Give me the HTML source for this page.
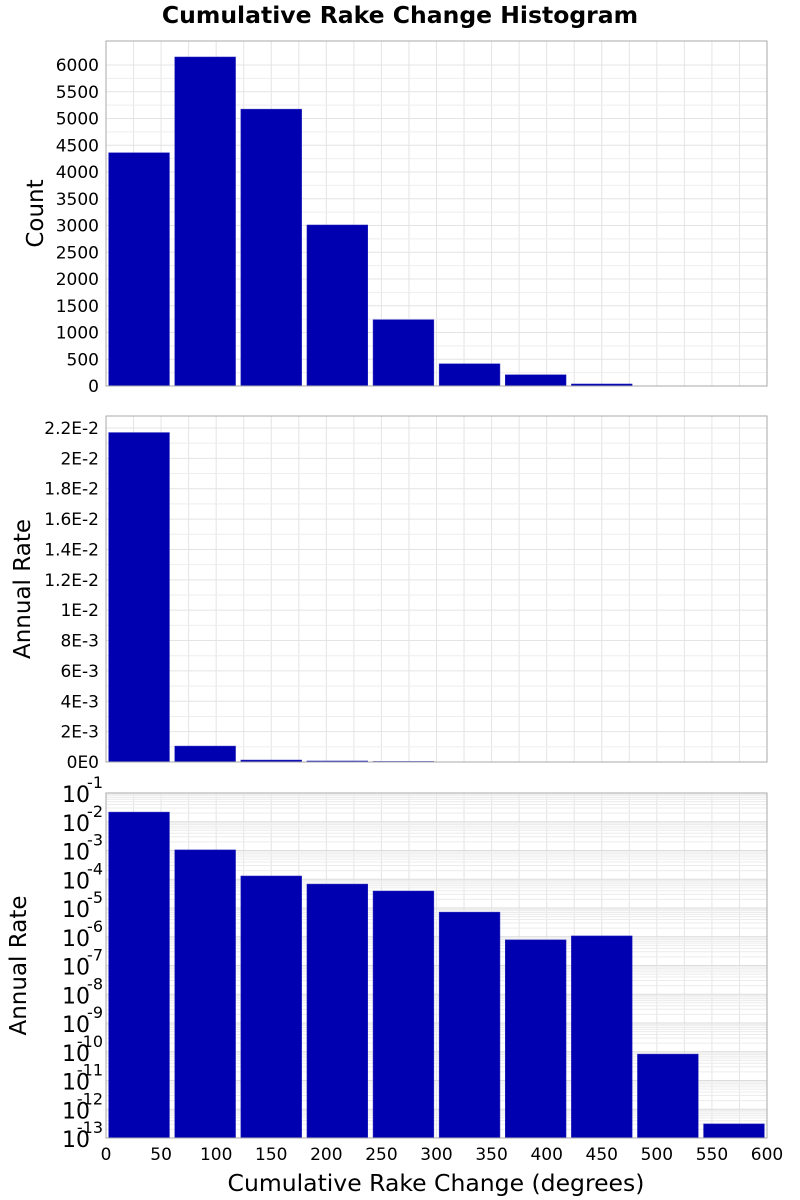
<!DOCTYPE html>
<html><head><meta charset="utf-8"><style>body{margin:0;background:#fff}svg{display:block}</style></head>
<body>
<svg id="c" width="800" height="1200" xmlns="http://www.w3.org/2000/svg" font-family="DejaVu Sans, Liberation Sans, sans-serif"></svg>
<script>
const binStarts=[0,60,120,180,240,300,360,420,480,540];
const binWidth=60;
const counts=[4360,6150,5175,3010,1240,415,210,38,2,1];
const rates=[0.0217,0.00105,0.00013,0.000068,0.000039,0.0000072,0.00000078,0.00000107,8.3e-11,3.1e-13];
const countTicks=[0,500,1000,1500,2000,2500,3000,3500,4000,4500,5000,5500,6000];
const rateTicks=[0,0.002,0.004,0.006,0.008,0.01,0.012,0.014,0.016,0.018,0.02,0.022];
const rateTickLabels=["0E0","2E-3","4E-3","6E-3","8E-3","1E-2","1.2E-2","1.4E-2","1.6E-2","1.8E-2","2E-2","2.2E-2"];
const logExps=[-1,-2,-3,-4,-5,-6,-7,-8,-9,-10,-11,-12,-13];
const xTicks=[0,50,100,150,200,250,300,350,400,450,500,550,600];
const svg=document.getElementById('c');const NS='http://www.w3.org/2000/svg';
function el(t,a,p){const e=document.createElementNS(NS,t);for(const k in a)e.setAttribute(k,a[k]);(p||svg).appendChild(e);return e;}
const L=106,R=767;const xs=v=>L+(v/600)*(R-L);
function txt(s,a,name){const e=el('text',a);e.textContent=s;return e;}
txt('Cumulative Rake Change Histogram',{x:400,y:23,'text-anchor':'middle','font-size':23.5,'font-weight':'bold'},'chart-title');
function panel(top,bot,ys,ticks,labels,vals,ytitle,name,log,tx){
  const g=el('g',{});
  el('rect',{x:L,y:top,width:R-L,height:bot-top,fill:'#fff'},g);
  for(let v=0;v<=600;v+=25){el('line',{x1:xs(v),x2:xs(v),y1:top,y2:bot,stroke:'#e4e4e4','stroke-width':1},g);}
  if(log){for(let i=0;i<logExps.length-1;i++){for(let m=1;m<10;m++){const y=ys(Math.log10(m)+logExps[i+1]);el('line',{x1:L,x2:R,y1:y,y2:y,stroke:m==1?'#dcdcdc':'#ececec','stroke-width':1},g);}}}
  else{for(let i=0;i<ticks.length;i++){const y=ys(ticks[i]);el('line',{x1:L,x2:R,y1:y,y2:y,stroke:'#e4e4e4'},g);if(i<ticks.length-1){const y2=ys((ticks[i]+ticks[i+1])/2);el('line',{x1:L,x2:R,y1:y2,y2:y2,stroke:'#eeeeee'},g);}}}
  for(let i=0;i<vals.length;i++){const x0=xs(binStarts[i]+binWidth*0.04),x1=xs(binStarts[i]+binWidth*0.96);
    const yv=log?ys(Math.log10(vals[i])):ys(vals[i]);const r=el('rect',{x:x0,y:yv,width:x1-x0,height:Math.max(0,bot-yv),fill:'#0000b0',stroke:'#3030c0','stroke-width':0.5},g);
    }
  el('rect',{x:L,y:top,width:R-L,height:bot-top,fill:'none',stroke:'#aaa','stroke-width':1},g);
  for(let i=0;i<ticks.length;i++){const y=ys(ticks[i]);
    if(log){txt('10',{x:90,y:y+9,'text-anchor':'end','font-size':22},'y-tick-label');txt(String(ticks[i]),{x:103,y:y-5,'text-anchor':'end','font-size':16},'y-tick-exponent');}
    else txt(labels[i],{x:99,y:y+6,'text-anchor':'end','font-size':17},'y-tick-label');}
  txt(ytitle,{x:0,y:0,'text-anchor':'middle','font-size':23,transform:`translate(${tx},${(top+bot)/2}) rotate(-90)`},'y-axis-title');
}
panel(41,386,v=>386-v*0.0535,countTicks,countTicks.map(String),counts,'Count','count-panel',false,43);
panel(416,762,v=>762-v*(334/0.022),rateTicks,rateTickLabels,rates,'Annual Rate','rate-panel',false,30);
panel(793,1138,e=>793+(-1-e)*28.75,logExps,null,rates,'Annual Rate','log-rate-panel',true,26);
for(const v of xTicks)txt(String(v),{x:xs(v),y:1160,'text-anchor':'middle','font-size':17},'x-tick-label');
txt('Cumulative Rake Change (degrees)',{x:436,y:1191,'text-anchor':'middle','font-size':23.5},'x-axis-title');
</script>
</body></html>
